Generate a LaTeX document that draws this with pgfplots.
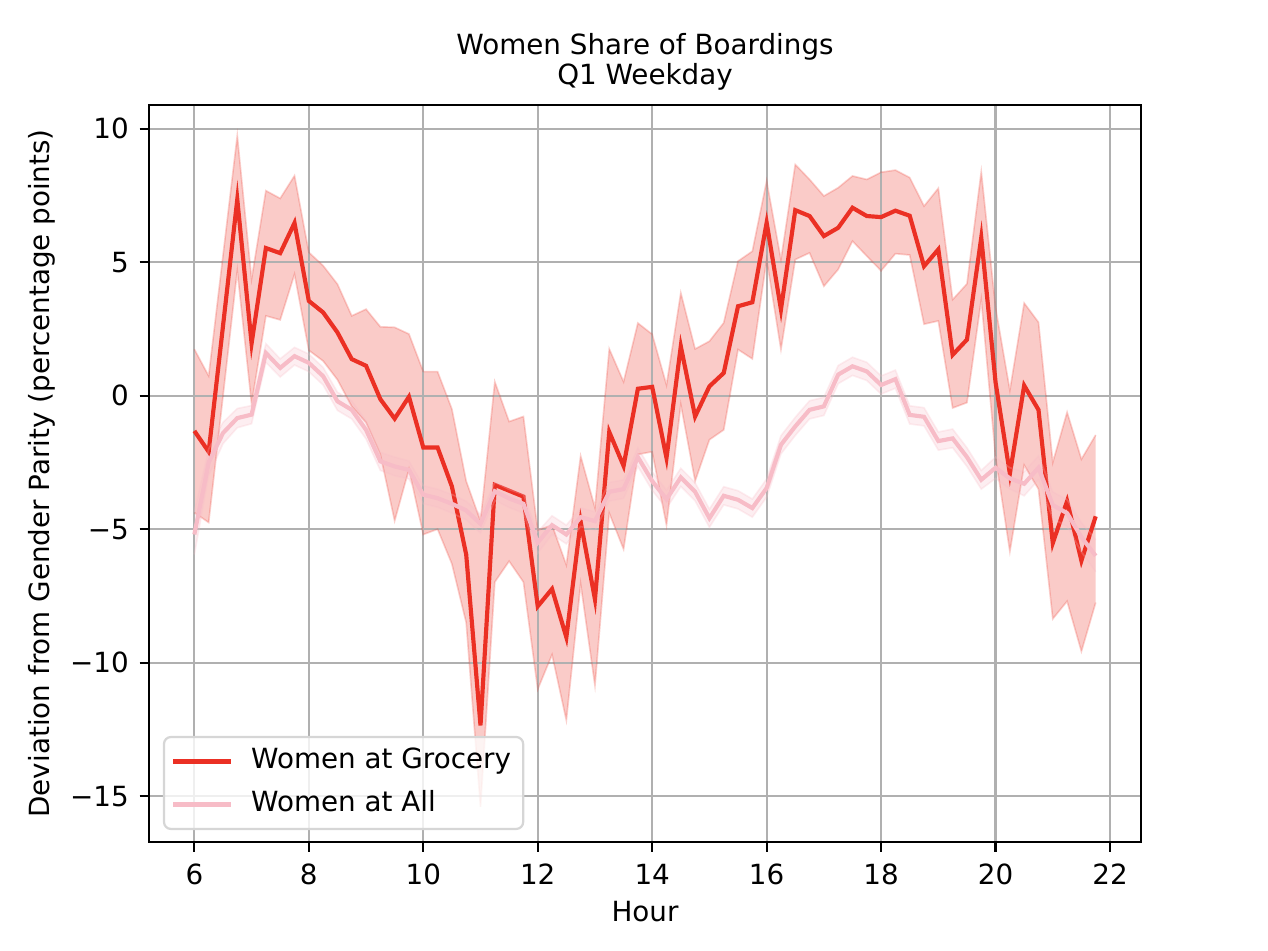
\documentclass[border=0pt]{standalone}
\usepackage{fontspec}
\setmainfont{DejaVu Sans}
\usepackage{pgfplots}
\pgfplotsset{compat=1.18}
\usepackage{pgfplotstable}
\usepgfplotslibrary{fillbetween}
\tikzset{fill between/on layer=axis background}

\definecolor{gred}{RGB}{235,48,36}
\definecolor{gpink}{RGB}{247,188,199}
\definecolor{gridc}{RGB}{176,176,176}
\definecolor{legedge}{RGB}{214,214,214}

% h: hour, m/lo/hi: Women at Grocery mean and band, a/alo/ahi: Women at All
\pgfplotstableread{
h      m      lo      hi     a      alo    ahi
6.00  -1.32  -4.38   1.74  -5.20  -5.95  -4.35
6.25  -2.10  -4.75   0.74  -2.50  -3.00  -2.00
6.50   2.60  -0.03   5.24  -1.40  -1.80  -1.00
6.75   7.35   4.68   9.74  -0.84  -1.20  -0.48
7.00   1.96  -0.30   4.37  -0.71  -1.05  -0.37
7.25   5.53   2.99   7.68   1.60   1.25   1.95
7.50   5.34   2.84   7.39   1.04   0.70   1.38
7.75   6.47   4.55   8.24   1.48   1.15   1.81
8.00   3.55   1.70   5.37   1.23   0.90   1.56
8.25   3.12   1.30   4.87   0.73   0.40   1.06
8.50   2.37   0.60   4.18  -0.21  -0.55   0.13
8.75   1.37  -0.40   2.99  -0.53  -0.87  -0.19
9.00   1.12  -1.00   3.24  -1.28  -1.62  -0.94
9.25  -0.13  -2.20   2.58  -2.46  -2.80  -2.12
9.50  -0.86  -4.69   2.56  -2.65  -3.00  -2.30
9.75  -0.04  -2.75   2.31  -2.78  -3.12  -2.44
10.00 -1.94  -5.20   0.90  -3.71  -4.05  -3.37
10.25 -1.94  -5.00   0.90  -3.84  -4.18  -3.50
10.50 -3.40  -6.30  -0.50  -4.05  -4.40  -3.70
10.75 -5.95  -8.50  -3.20  -4.30  -4.65  -3.95
11.00 -12.35 -15.40 -4.70  -4.80  -5.15  -4.45
11.25 -3.34  -6.98   0.52  -3.58  -3.92  -3.24
11.50 -3.56  -6.20  -0.97  -3.85  -4.19  -3.51
11.75 -3.78  -6.98  -0.78  -4.05  -4.40  -3.70
12.00 -7.89  -11.00 -5.04  -5.50  -5.90  -5.10
12.25 -7.24  -9.70  -4.85  -4.85  -5.20  -4.50
12.50 -9.05  -12.16 -6.34  -5.20  -5.55  -4.85
12.75 -4.72  -7.05  -2.26  -4.55  -4.90  -4.20
13.00 -7.63  -10.86 -4.20  -4.70  -5.05  -4.35
13.25 -1.36  -4.40   1.75  -3.60  -3.95  -3.25
13.50 -2.63  -5.75   0.52  -3.50  -3.85  -3.15
13.75  0.26  -2.20   2.72  -2.30  -2.65  -1.95
14.00  0.33  -2.10   2.30  -3.20  -3.55  -2.85
14.25 -2.33  -4.85   0.40  -3.88  -4.22  -3.54
14.50  1.85  -0.33   3.85  -3.06  -3.40  -2.72
14.75 -0.78  -3.20   1.75  -3.60  -3.94  -3.26
15.00  0.35  -1.65   2.04  -4.59  -4.93  -4.25
15.25  0.85  -1.28   2.73  -3.75  -4.09  -3.41
15.50  3.35   1.73   5.04  -3.90  -4.24  -3.56
15.75  3.50   1.38   5.41  -4.21  -4.55  -3.87
16.00  6.48   5.10   8.04  -3.46  -3.80  -3.12
16.25  3.23   1.73   5.10  -1.84  -2.18  -1.50
16.50  6.95   5.10   8.66  -1.15  -1.49  -0.81
16.75  6.73   5.35   8.10  -0.53  -0.87  -0.19
17.00  5.98   4.10   7.48  -0.40  -0.74  -0.06
17.25  6.29   4.73   7.79   0.79   0.45   1.13
17.50  7.04   5.79   8.23   1.10   0.76   1.44
17.75  6.73   5.23   8.10   0.91   0.57   1.25
18.00  6.69   4.68   8.37   0.40   0.06   0.74
18.25  6.93   5.32   8.45   0.62   0.28   0.96
18.50  6.74   5.27   8.17  -0.72  -1.06  -0.38
18.75  4.85   2.68   7.10  -0.79  -1.13  -0.45
19.00  5.48   2.80   7.77  -1.70  -2.04  -1.36
19.25  1.53  -0.46   3.60  -1.60  -1.95  -1.25
19.50  2.10  -0.26   4.19  -2.30  -2.65  -1.95
19.75  5.92   3.60   8.39  -3.15  -3.50  -2.80
20.00  0.50  -2.30   3.30  -2.70  -3.10  -2.30
20.25 -2.92  -5.84   0.20  -3.10  -3.50  -2.70
20.50  0.38  -2.60   3.47  -3.30  -3.75  -2.85
20.75 -0.53  -3.50   2.75  -2.70  -3.15  -2.25
21.00 -5.52  -8.36  -2.50  -4.10  -4.60  -3.60
21.25 -3.95  -7.70  -0.62  -4.40  -4.90  -3.90
21.50 -6.18  -9.58  -2.38  -5.30  -5.85  -4.75
21.75 -4.52  -7.75  -1.47  -6.00  -6.60  -5.40
}\datatable

\begin{document}
\begin{tikzpicture}
\begin{axis}[
  at={(0pt,0pt)}, anchor=south west,
  scale only axis, width=356.9pt, height=265.4pt,
  set layers,
  xmin=5.2125, xmax=22.5375, ymin=-16.72, ymax=10.9,
  xtick={6,8,10,12,14,16,18,20,22},
  xticklabels={6,8,10,12,14,16,18,20,22},
  ytick={-15,-10,-5,0,5,10},
  yticklabels={−15,−10,−5,0,5,10},
  xtick pos=bottom, ytick pos=left,
  tick align=outside, major tick length=3.5pt,
  tick style={black, line width=0.8pt},
  axis line style={black, line width=0.8pt},
  grid=major, major grid style={gridc, line width=0.8pt},
  ticklabel style={font=\fontsize{10}{12}\selectfont, text=black},
  xticklabel style={anchor=base, inner sep=0pt, yshift=-11.7pt},
  yticklabel style={anchor=east, inner sep=0pt, xshift=-3.7pt},
  legend image code/.code={\path (0pt,0pt); \draw[#1] (2pt,0pt) -- (22.9pt,0pt);},
  legend cell align=left,
  legend style={at={(rel axis cs:0.0137,0.0162)}, anchor=south west,
    draw=legedge, line width=0.8pt, rounded corners=2.5pt,
    fill=white, fill opacity=0.8, text opacity=1,
    font=\fontsize{10}{12}\selectfont,
    inner xsep=0.6pt, inner ysep=1.3pt, row sep=0.5pt,
    /tikz/every odd column/.append style={column sep=2.6pt},
    nodes={inner xsep=3.8pt, inner ysep=2.5pt, text height=7.6pt, text depth=2.4pt}},
]
\addlegendimage{gred, line width=1.5pt}
\addlegendentry{Women at Grocery}
\addlegendimage{gpink, line width=1.5pt}
\addlegendentry{Women at All}

% Women at Grocery: band and mean
\addplot[name path=gu, draw=gred, draw opacity=0.22, line width=0.6pt, forget plot] table[x=h, y=hi] {\datatable};
\addplot[name path=gl, draw=gred, draw opacity=0.22, line width=0.6pt, forget plot] table[x=h, y=lo] {\datatable};
\addplot[fill=gred, fill opacity=0.25, draw=none, forget plot] fill between[of=gu and gl];
\addplot[gred, line width=1.5pt, forget plot] table[x=h, y=m] {\datatable};

% Women at All: band and mean
\addplot[name path=au, draw=gpink, draw opacity=0.25, line width=0.6pt, forget plot] table[x=h, y=ahi] {\datatable};
\addplot[name path=al, draw=gpink, draw opacity=0.25, line width=0.6pt, forget plot] table[x=h, y=alo] {\datatable};
\addplot[fill=gpink, fill opacity=0.25, draw=none, forget plot] fill between[of=au and al];
\addplot[gpink, line width=1.5pt, forget plot] table[x=h, y=a] {\datatable};
\end{axis}

% titles and axis labels
\node[anchor=base, font=\fontsize{10}{12}\selectfont] at (178.45pt,283.5pt) {Women Share of Boardings};
\node[anchor=base, font=\fontsize{10}{12}\selectfont] at (178.45pt,272.5pt) {Q1 Weekday};
\node[anchor=base, font=\fontsize{10}{12}\selectfont] at (178.45pt,-28.7pt) {Hour};
\node[anchor=base, rotate=90, font=\fontsize{10}{12}\selectfont] at (-35.9pt,132.7pt) {Deviation from Gender Parity (percentage points)};

\pgfresetboundingbox
\useasboundingbox (-53.74pt,-38.9pt) rectangle (402.7pt,303.1pt);
\end{tikzpicture}
\end{document}
